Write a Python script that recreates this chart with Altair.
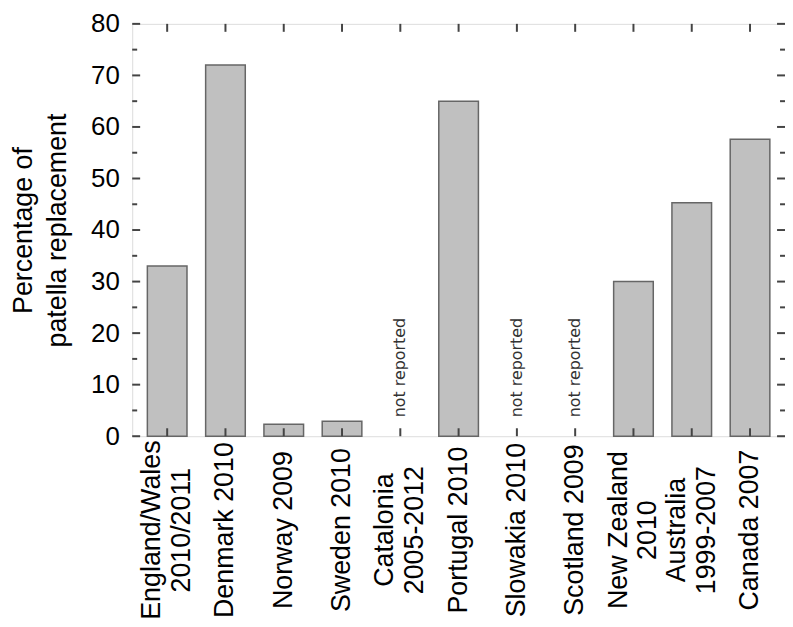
import altair as alt
import pandas as pd

categories = ["England/Wales|2010/2011", "Denmark 2010", "Norway 2009", "Sweden 2010",
              "Catalonia|2005-2012", "Portugal 2010", "Slowakia 2010", "Scotland 2009",
              "New Zealand|2010", "Australia|1999-2007", "Canada 2007"]
values = [33, 72, 2.3, 2.9, None, 65, None, None, 30, 45.3, 57.6]
not_reported = ["Catalonia|2005-2012", "Slowakia 2010", "Scotland 2009"]
y_major = [0, 10, 20, 30, 40, 50, 60, 70, 80]
y_minor = [5, 15, 25, 35, 45, 55, 65, 75]

W, H = 657, 415
FONT = "Liberation Sans"
TICK = "#444444"

df = pd.DataFrame({"cat": categories, "val": values})
df_na = pd.DataFrame({"cat": not_reported, "val": [0] * len(not_reported)})
df_major = pd.DataFrame({"v": y_major})
df_minor = pd.DataFrame({"v": y_minor})

xscale = alt.Scale(domain=categories, paddingInner=0.32, paddingOuter=0.26)
yscale = alt.Scale(domain=[0, 80], nice=False)

xenc = alt.X("cat:N", scale=xscale, sort=categories, axis=alt.Axis(
    title=None, labelAngle=-90, labelAlign="center",
    labelBaseline={"condition": {"test": "indexof(datum.label, '|') >= 0",
                                 "value": "line-bottom"}, "value": "middle"},
    labelPadding=94, labelFontSize=27, labelFont=FONT, labelColor="black",
    labelLineHeight=30, labelExpr="split(datum.label, '|')",
    ticks=False, tickSize=0, domain=False, labelOverlap=False, labelLimit=300))
yenc = alt.Y("val:Q", scale=yscale, axis=alt.Axis(
    title=["Percentage of", "patella replacement"], titleFontSize=27, titleFont=FONT,
    titleFontWeight="normal", titleColor="black", titleLineHeight=34, titlePadding=19,
    values=y_major, labelFontSize=26, labelFont=FONT, labelColor="black",
    labelPadding=13, ticks=False, tickSize=0, domain=False, grid=False))

bars = alt.Chart(df).mark_bar(color="#c0c0c0", stroke="#666666", strokeWidth=1.5).encode(
    x=xenc, y=yenc)

na_text = alt.Chart(df_na).mark_text(
    angle=270, align="left", baseline="middle", fontSize=16, font="DejaVu Sans",
    color="#333333", dx=19).encode(
    x=alt.X("cat:N", scale=xscale, sort=categories),
    y=alt.Y("val:Q", scale=yscale), text=alt.value("not reported"))

xt_top = alt.Chart(df).mark_rule(color=TICK, strokeWidth=2).encode(
    x=alt.X("cat:N", scale=xscale, sort=categories), y=alt.value(0), y2=alt.value(8))
xt_bot = alt.Chart(df).mark_rule(color=TICK, strokeWidth=2).encode(
    x=alt.X("cat:N", scale=xscale, sort=categories), y=alt.value(H - 8), y2=alt.value(H))

def yticks(d, x1, x2):
    return alt.Chart(d).mark_rule(color=TICK, strokeWidth=2).encode(
        y=alt.Y("v:Q", scale=yscale), x=alt.value(x1), x2=alt.value(x2))

ticks = [yticks(df_major, 0, 8), yticks(df_minor, 0, 5),
         yticks(df_major, W - 8, W), yticks(df_minor, W - 5, W)]

chart = alt.layer(bars, na_text, xt_top, xt_bot, *ticks).properties(
    width=W, height=H,
    autosize=alt.AutoSizeParams(type="none"),
    padding={"left": 125, "top": 14, "right": 0, "bottom": 182},
).configure_view(stroke="#555555", strokeWidth=2).configure(background="white")

chart.save("out.html", embed_options={"renderer": "svg", "actions": False})
